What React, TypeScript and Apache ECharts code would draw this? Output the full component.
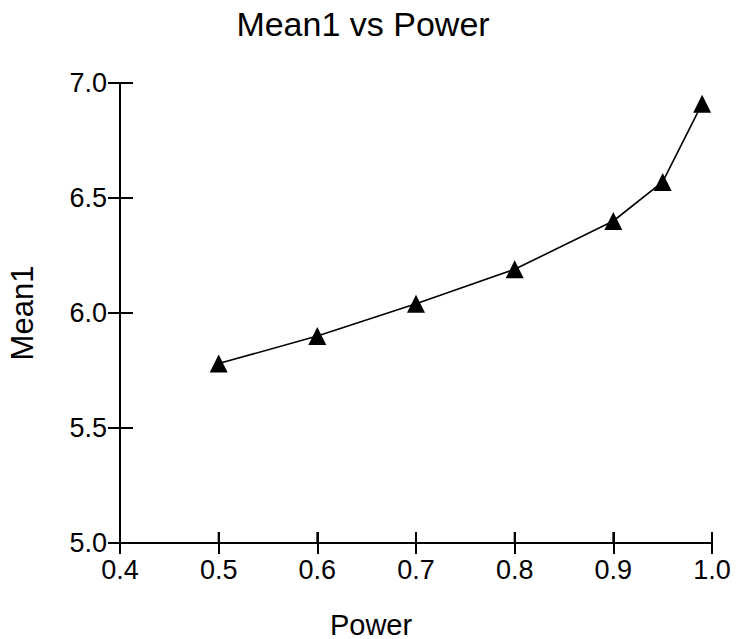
import React, { useEffect, useRef } from "react";
import * as echarts from "echarts";

const powerValues = [0.5, 0.6, 0.7, 0.8, 0.9, 0.95, 0.99];
const mean1Values = [5.78, 5.9, 6.04, 6.19, 6.4, 6.57, 6.91];
const xTicks = [0.4, 0.5, 0.6, 0.7, 0.8, 0.9, 1.0];
const yTicks = [5.0, 5.5, 6.0, 6.5, 7.0];
const titleText = "Mean1 vs Power";
const xName = "Power";
const yName = "Mean1";

const FONT = "'Liberation Sans', Arial, Helvetica, sans-serif";

export default function App() {
  const ref = useRef<HTMLDivElement>(null);
  useEffect(() => {
    if (!ref.current) return;
    const chart = echarts.init(ref.current, undefined, { renderer: "svg" });
    const axisLine = { show: true, lineStyle: { color: "#000", width: 2 } };
    const tickStyle = { color: "#000", width: 2 };
    const xMin = xTicks[0];
    const yMin = yTicks[0];
    const gridBox = { left: 120, right: 24, top: 83, bottom: 96, containLabel: false, outerBoundsMode: "none" };
    chart.setOption({
      animation: false,
      backgroundColor: "#fff",
      textStyle: { fontFamily: FONT },
      title: {
        text: titleText,
        left: 358,
        textAlign: "center",
        top: 2,
        textStyle: { fontFamily: FONT, fontSize: 34, fontWeight: "normal", color: "#000" },
      },
      grid: [gridBox, { ...gridBox }],
      xAxis: [
        {
          type: "value",
          gridIndex: 0,
          min: 0.4,
          max: 1.0,
          interval: 0.1,
          position: "bottom",
          name: xName,
          nameLocation: "middle",
          nameGap: 67,
          nameTextStyle: {
            fontFamily: FONT,
            fontSize: 29,
            lineHeight: 29,
            color: "#000",
            padding: [0, 90, 0, 0],
          },
          axisLine,
          axisTick: { show: true, inside: false, length: 11, lineStyle: tickStyle },
          axisLabel: {
            fontFamily: FONT,
            fontSize: 27,
            color: "#000",
            margin: 13,
            formatter: (v: number) => v.toFixed(1),
          },
          splitLine: { show: false },
        },
        {
          type: "value",
          gridIndex: 1,
          min: 0.4,
          max: 1.0,
          interval: 0.1,
          position: "bottom",
          axisLine: { show: true, lineStyle: { color: "#000", width: 2 } },
          axisTick: { show: true, inside: true, length: 11, lineStyle: tickStyle },
          axisLabel: { show: false },
          splitLine: { show: false },
        },
      ],
      yAxis: [
        {
          type: "value",
          gridIndex: 0,
          min: 5,
          max: 7,
          interval: 0.5,
          position: "left",
          name: yName,
          nameLocation: "middle",
          nameGap: 82,
          nameTextStyle: { fontFamily: FONT, fontSize: 31, color: "#000" },
          axisLine,
          axisTick: { show: true, inside: false, length: 12, lineStyle: tickStyle },
          axisLabel: {
            fontFamily: FONT,
            fontSize: 27,
            color: "#000",
            margin: 13,
            formatter: (v: number) => v.toFixed(1),
          },
          splitLine: { show: false },
        },
        {
          type: "value",
          gridIndex: 1,
          min: 5,
          max: 7,
          interval: 0.5,
          position: "left",
          axisLine: { show: true, lineStyle: { color: "#000", width: 2 } },
          axisTick: { show: true, inside: true, length: 13, lineStyle: tickStyle },
          axisLabel: { show: false },
          splitLine: { show: false },
        },
      ],
      series: [
        {
          type: "line",
          xAxisIndex: 0,
          yAxisIndex: 0,
          data: powerValues.map((p, i) => [p, mean1Values[i]]),
          symbol: "triangle",
          symbolSize: 18,
          showAllSymbol: true,
          lineStyle: { color: "#000", width: 1.6 },
          itemStyle: { color: "#000" },
          z: 3,
        },
        {
          type: "line",
          xAxisIndex: 1,
          yAxisIndex: 1,
          data: [],
        },
        {
          type: "custom",
          xAxisIndex: 0,
          yAxisIndex: 0,
          silent: true,
          clip: false,
          data: xTicks.map((v) => [v, yMin]),
          renderItem: (_params: any, api: any) => {
            const p = api.coord([api.value(0), api.value(1)]);
            return {
              type: "rect",
              shape: { x: p[0] - 1, y: p[1] - 11, width: 2, height: 11 },
              style: { fill: "#000" },
            };
          },
          z: 2,
        },
        {
          type: "custom",
          xAxisIndex: 0,
          yAxisIndex: 0,
          silent: true,
          clip: false,
          data: yTicks.map((v) => [xMin, v]),
          renderItem: (_params: any, api: any) => {
            const p = api.coord([api.value(0), api.value(1)]);
            return {
              type: "rect",
              shape: { x: p[0], y: p[1] - 1, width: 13, height: 2 },
              style: { fill: "#000" },
            };
          },
          z: 2,
        },
      ],
    });

    return () => chart.dispose();
  }, []);
  return (
    <div
      ref={ref}
      style={{ position: "fixed", left: 0, top: 0, width: 736, height: 639, background: "#fff" }}
    />
  );
}
